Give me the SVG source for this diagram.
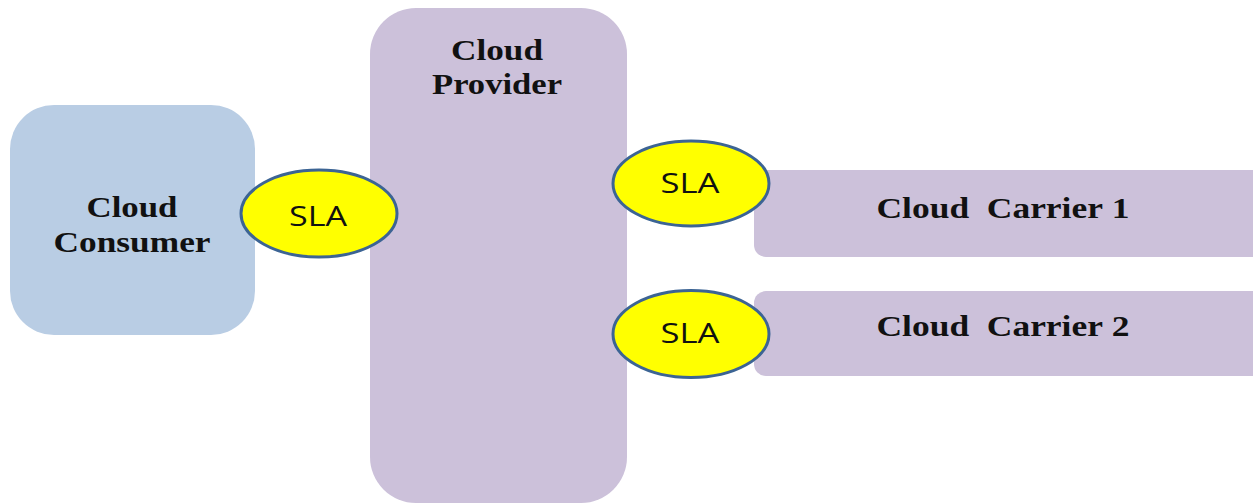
<svg xmlns="http://www.w3.org/2000/svg" width="1253" height="504" viewBox="0 0 1253 504">
<style>
.bg{fill:#ffffff}
.consumer{fill:#b9cde4}
.purple{fill:#ccc1da}
.sla{fill:#ffff00;stroke:#3c6494;stroke-width:3}
.lbl{font-family:"Liberation Serif","Times New Roman",serif;font-weight:bold;font-size:29px;fill:#111111;text-anchor:middle}
.slat{font-family:"Open Sans","Liberation Sans",Arial,sans-serif;font-size:27px;fill:#111111;text-anchor:middle}
</style>
<rect class="bg" x="0" y="0" width="1253" height="504"/>
<g id="cloud-consumer">
  <rect class="consumer" x="10" y="105" width="245" height="230" rx="44" ry="44"/>
  <text class="lbl" x="132" y="217" textLength="91" lengthAdjust="spacingAndGlyphs">Cloud</text>
  <text class="lbl" x="132" y="252" textLength="157" lengthAdjust="spacingAndGlyphs">Consumer</text>
</g>
<g id="cloud-provider">
  <rect class="purple" x="370" y="8" width="257" height="495" rx="46" ry="46"/>
  <text class="lbl" x="497" y="60" textLength="92" lengthAdjust="spacingAndGlyphs">Cloud</text>
  <text class="lbl" x="497" y="94" textLength="130" lengthAdjust="spacingAndGlyphs">Provider</text>
</g>
<g id="cloud-carrier-1">
  <rect class="purple" x="754" y="170" width="512" height="87" rx="12" ry="12"/>
  <text class="lbl" x="1003" y="218" textLength="253" lengthAdjust="spacingAndGlyphs">Cloud&#160; Carrier&#160;1</text>
</g>
<g id="cloud-carrier-2">
  <rect class="purple" x="754" y="291" width="512" height="85" rx="12" ry="12"/>
  <text class="lbl" x="1003" y="336" textLength="253" lengthAdjust="spacingAndGlyphs">Cloud&#160; Carrier&#160;2</text>
</g>
<g id="connectors"></g>
<g id="sla-consumer">
  <ellipse class="sla" cx="319" cy="213.5" rx="78" ry="43.5"/>
  <text class="slat" x="318" y="226" textLength="58" lengthAdjust="spacingAndGlyphs">SLA</text>
</g>
<g id="sla-carrier-1">
  <ellipse class="sla" cx="691" cy="183.5" rx="78" ry="42.5"/>
  <text class="slat" x="690" y="193" textLength="59" lengthAdjust="spacingAndGlyphs">SLA</text>
</g>
<g id="sla-carrier-2">
  <ellipse class="sla" cx="691" cy="334" rx="78" ry="43.5"/>
  <text class="slat" x="690" y="343" textLength="59" lengthAdjust="spacingAndGlyphs">SLA</text>
</g>
</svg>
